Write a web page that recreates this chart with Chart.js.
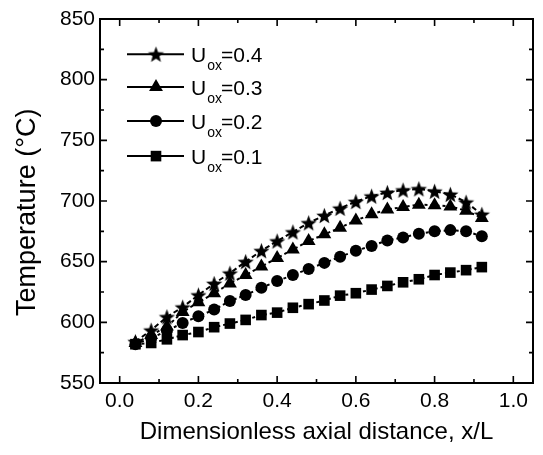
<!DOCTYPE html>
<html>
<head>
<meta charset="utf-8">
<script src="https://cdn.jsdelivr.net/npm/chart.js@4"></script>
<style>
html,body{margin:0;padding:0;background:#fff;}
#wrap{width:543px;height:455px;}
</style>
</head>
<body>
<div id="wrap"><canvas id="c" width="543" height="455"></canvas></div>
<script>
// ---- data ----
const xValues = [0.04,0.08,0.12,0.16,0.20,0.24,0.28,0.32,0.36,0.40,0.44,0.48,0.52,0.56,0.60,0.64,0.68,0.72,0.76,0.80,0.84,0.88,0.92];
const u04 = [584,593.5,604.5,612.5,622.5,632,640.5,650,659,667,674.5,682,688,694,699.5,704,707,709,710,708,705.5,699,689];
const u03 = [583,589.5,596.5,608.5,616.5,624,632,639,646,653,660,667,672.5,678,684,689,693,695,697,696.5,695.5,692,686];
const u02 = [582,587,593,599.5,605,610.5,617.5,622.5,628.5,634,639,644,649,654,659,663,667.5,670,673,675,676,675,671];
const u01 = [582,583,586,589.5,592,596,599,602,606,608,612,615,618,622,624,627,630,633,635.5,639,641,643,645.5];
const seriesLabels = ["0.4","0.3","0.2","0.1"];
const xTickValues = [0.0,0.2,0.4,0.6,0.8,1.0];
const xMinorValues = [0.1,0.3,0.5,0.7,0.9];
const yTickValues = [550,600,650,700,750,800,850];
const yMinorValues = [575,625,675,725,775,825];

// filled 5-point star marker
function makeStar(R){
  const s = Math.ceil(R*2+2);
  const c = document.createElement('canvas');
  c.width = s; c.height = s;
  const g = c.getContext('2d');
  const cx = s/2, cy = s/2 + R*0.1, r = R*0.42;
  g.beginPath();
  for(let i=0;i<10;i++){
    const a = -Math.PI/2 + i*Math.PI/5;
    const rr = (i%2===0)?R:r;
    const px = cx + rr*Math.cos(a), py = cy + rr*Math.sin(a);
    if(i===0) g.moveTo(px,py); else g.lineTo(px,py);
  }
  g.closePath();
  g.fillStyle = '#000';
  g.fill();
  return c;
}
const starImg = makeStar(8.5);

const pts = arr => arr.map((v,i)=>({x:xValues[i], y:v}));
const FONT = "'Liberation Sans', Arial, sans-serif";

const styles = [
  {pointStyle: starImg, pointRadius: 8, dash:[5,3]},
  {pointStyle: 'triangle', pointRadius: 8, dash:[3,3]},
  {pointStyle: 'circle', pointRadius: 6, dash:[3,3]},
  {pointStyle: 'rect', pointRadius: 7.5, dash:[3,3]}
];
const seriesData = [u04,u03,u02,u01];

const datasets = seriesData.map((arr,i)=>({
  label: 'Uox=' + seriesLabels[i],
  data: pts(arr),
  borderColor: '#000',
  backgroundColor: '#000',
  borderWidth: 2,
  borderDash: styles[i].dash,
  pointStyle: styles[i].pointStyle,
  pointRadius: styles[i].pointRadius,
  pointBorderWidth: 0,
  pointBackgroundColor: '#000',
  pointBorderColor: '#000',
  showLine: true,
  tension: 0
}));

const framePlugin = {
  id: 'frame',
  afterDraw(chart){
    const {ctx, chartArea:a, scales:{x, y}} = chart;
    ctx.save();
    ctx.strokeStyle = '#000';
    ctx.lineWidth = 2;
    ctx.setLineDash([]);
    ctx.strokeRect(a.left, a.top, a.right-a.left, a.bottom-a.top);
    const major = 7, minor = 4;
    ctx.lineWidth = 1.6;
    ctx.beginPath();
    xTickValues.forEach(v=>{ const px = x.getPixelForValue(v);
      ctx.moveTo(px,a.bottom); ctx.lineTo(px,a.bottom-major);
      ctx.moveTo(px,a.top); ctx.lineTo(px,a.top+major); });
    xMinorValues.forEach(v=>{ const px = x.getPixelForValue(v);
      ctx.moveTo(px,a.bottom); ctx.lineTo(px,a.bottom-minor);
      ctx.moveTo(px,a.top); ctx.lineTo(px,a.top+minor); });
    yTickValues.forEach(v=>{ const py = y.getPixelForValue(v);
      ctx.moveTo(a.left,py); ctx.lineTo(a.left+major,py);
      ctx.moveTo(a.right,py); ctx.lineTo(a.right-major,py); });
    yMinorValues.forEach(v=>{ const py = y.getPixelForValue(v);
      ctx.moveTo(a.left,py); ctx.lineTo(a.left+minor,py);
      ctx.moveTo(a.right,py); ctx.lineTo(a.right-minor,py); });
    ctx.stroke();

    // legend
    const lx0 = a.left + 27, lx1 = a.left + 84, mx = a.left + 56;
    const rowY = [y.getPixelForValue(821), y.getPixelForValue(794), y.getPixelForValue(766), y.getPixelForValue(737)];
    chart.data.datasets.forEach((ds,i)=>{
      const yy = rowY[i];
      ctx.lineWidth = 2;
      ctx.beginPath(); ctx.moveTo(lx0,yy); ctx.lineTo(lx1,yy); ctx.stroke();
      Chart.helpers.drawPoint(ctx, {pointStyle: ds.pointStyle, radius: ds.pointRadius, borderWidth: 0, rotation: 0}, mx, yy);
      ctx.fillStyle = '#000';
      ctx.textBaseline = 'alphabetic';
      ctx.textAlign = 'left';
      let tx = a.left + 91;
      ctx.font = '21px ' + FONT;
      ctx.fillText('U', tx, yy + 8);
      tx += ctx.measureText('U').width + 1;
      ctx.font = '14px ' + FONT;
      ctx.fillText('ox', tx, yy + 16);
      const w = ctx.measureText('ox').width;
      ctx.font = '21px ' + FONT;
      ctx.fillText('=' + seriesLabels[i], tx + w - 1, yy + 8);
    });
    ctx.restore();
  }
};

new Chart(document.getElementById('c'), {
  type: 'scatter',
  data: { datasets },
  options: {
    responsive: false,
    animation: false,
    layout: { padding: { left: 0, right: 10, top: 19, bottom: 0 } },
    plugins: { legend: { display: false }, tooltip: { enabled: false } },
    scales: {
      x: {
        type: 'linear', min: -0.05, max: 1.05,
        afterBuildTicks: s => { s.ticks = xTickValues.map(v=>({value:v})); },
        afterFit: s => { s.height = 72; },
        grid: { display: false, drawTicks: false },
        border: { display: false },
        ticks: { color: '#000', padding: 6, font: { family: FONT, size: 21 },
                 callback: v => Number(v).toFixed(1), maxRotation: 0, autoSkip: false },
        title: { display: true, text: 'Dimensionless axial distance, x/L', color: '#000',
                 font: { family: FONT, size: 24 }, padding: { top: 4, bottom: 8 } }
      },
      y: {
        type: 'linear', min: 550, max: 850,
        afterBuildTicks: s => { s.ticks = yTickValues.map(v=>({value:v})); },
        afterFit: s => { s.width = 100; },
        grid: { display: false, drawTicks: false },
        border: { display: false },
        ticks: { color: '#000', padding: 5, font: { family: FONT, size: 21 }, autoSkip: false },
        title: { display: true, text: 'Temperature (°C)   ', color: '#000',
                 font: { family: FONT, size: 27 }, padding: { top: 11, bottom: 0 } }
      }
    }
  },
  plugins: [framePlugin]
});
</script>
</body>
</html>
